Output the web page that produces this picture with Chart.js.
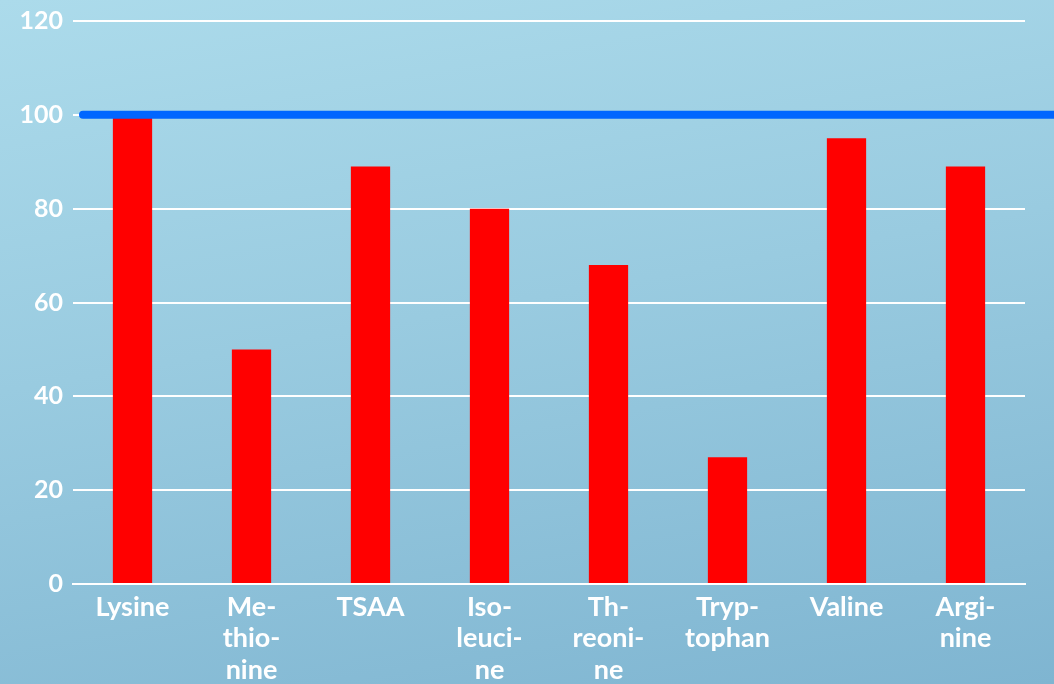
<!DOCTYPE html>
<html>
<head>
<meta charset="utf-8">
<script src="https://cdn.jsdelivr.net/npm/chart.js@4.4.1/dist/chart.umd.min.js"></script>
<style>
    html, body { margin: 0; padding: 0; }
    body {
        width: 1054px;
        height: 684px;
        overflow: hidden;
        background: linear-gradient(170deg, #acdbeb 0%, #99cbe0 45%, #7fb5d1 100%);
    }
    canvas { display: block; }
</style>
</head>
<body>
<canvas id="myChart" width="1054" height="684"></canvas>
<script>
"use strict";

// amino acids, split the way they wrap under the bars
let categories = [
    ["Lysine"],
    ["Me-", "thio-", "nine"],
    ["TSAA"],
    ["Iso-", "leuci-", "ne"],
    ["Th-", "reoni-", "ne"],
    ["Tryp-", "tophan"],
    ["Valine"],
    ["Argi-", "nine"]
];
let values = [100, 50, 89, 80, 68, 27, 95, 89];
let refLevel = 100;
let yTicks = [0, 20, 40, 60, 80, 100, 120];

// blue reference line, runs past the plot to the right edge
let refLine = {
    id: "refLine",
    afterDatasetsDraw: function (chart) {
        let ctx = chart.ctx;
        let y = chart.scales.y.getPixelForValue(refLevel);
        ctx.save();
        ctx.strokeStyle = "#0066ff";
        ctx.lineWidth = 8;
        ctx.lineCap = "round";
        ctx.beginPath();
        ctx.moveTo(chart.chartArea.left + 10, y);
        ctx.lineTo(chart.width + 10, y);
        ctx.stroke();
        ctx.restore();
    }
};

let chart = new Chart(document.getElementById("myChart"), {
    type: "bar",
    data: {
        labels: categories,
        datasets: [{
            data: values,
            backgroundColor: "#ff0000",
            borderWidth: 0,
            categoryPercentage: 1,
            barPercentage: 0.33
        }]
    },
    options: {
        responsive: false,
        devicePixelRatio: 1,
        animation: false,
        events: [],
        layout: { padding: { top: 21, right: 29, left: 0, bottom: 0 } },
        plugins: {
            legend: { display: false },
            tooltip: { enabled: false }
        },
        scales: {
            x: {
                grid: { display: false, drawTicks: false },
                border: { color: "#ffffff", width: 2 },
                ticks: {
                    color: "#ffffff",
                    font: { family: "Lato", weight: "bold", size: 27, lineHeight: 1.18 },
                    maxRotation: 0,
                    autoSkip: false,
                    padding: 7
                },
                afterFit: function (scale) { scale.height = 100; }
            },
            y: {
                min: 0,
                max: 120,
                afterBuildTicks: function (scale) {
                    scale.ticks = yTicks.map(function (v) { return { value: v }; });
                },
                grid: { color: "#ffffff", lineWidth: 2, drawTicks: false },
                border: { display: false },
                ticks: {
                    color: "#ffffff",
                    font: { family: "Lato", weight: "bold", size: 25 },
                    padding: 10
                },
                afterFit: function (scale) {
                    scale.width = 73;
                    scale.paddingTop = 0;
                }
            }
        }
    },
    plugins: [refLine]
});
</script>
</body>
</html>
